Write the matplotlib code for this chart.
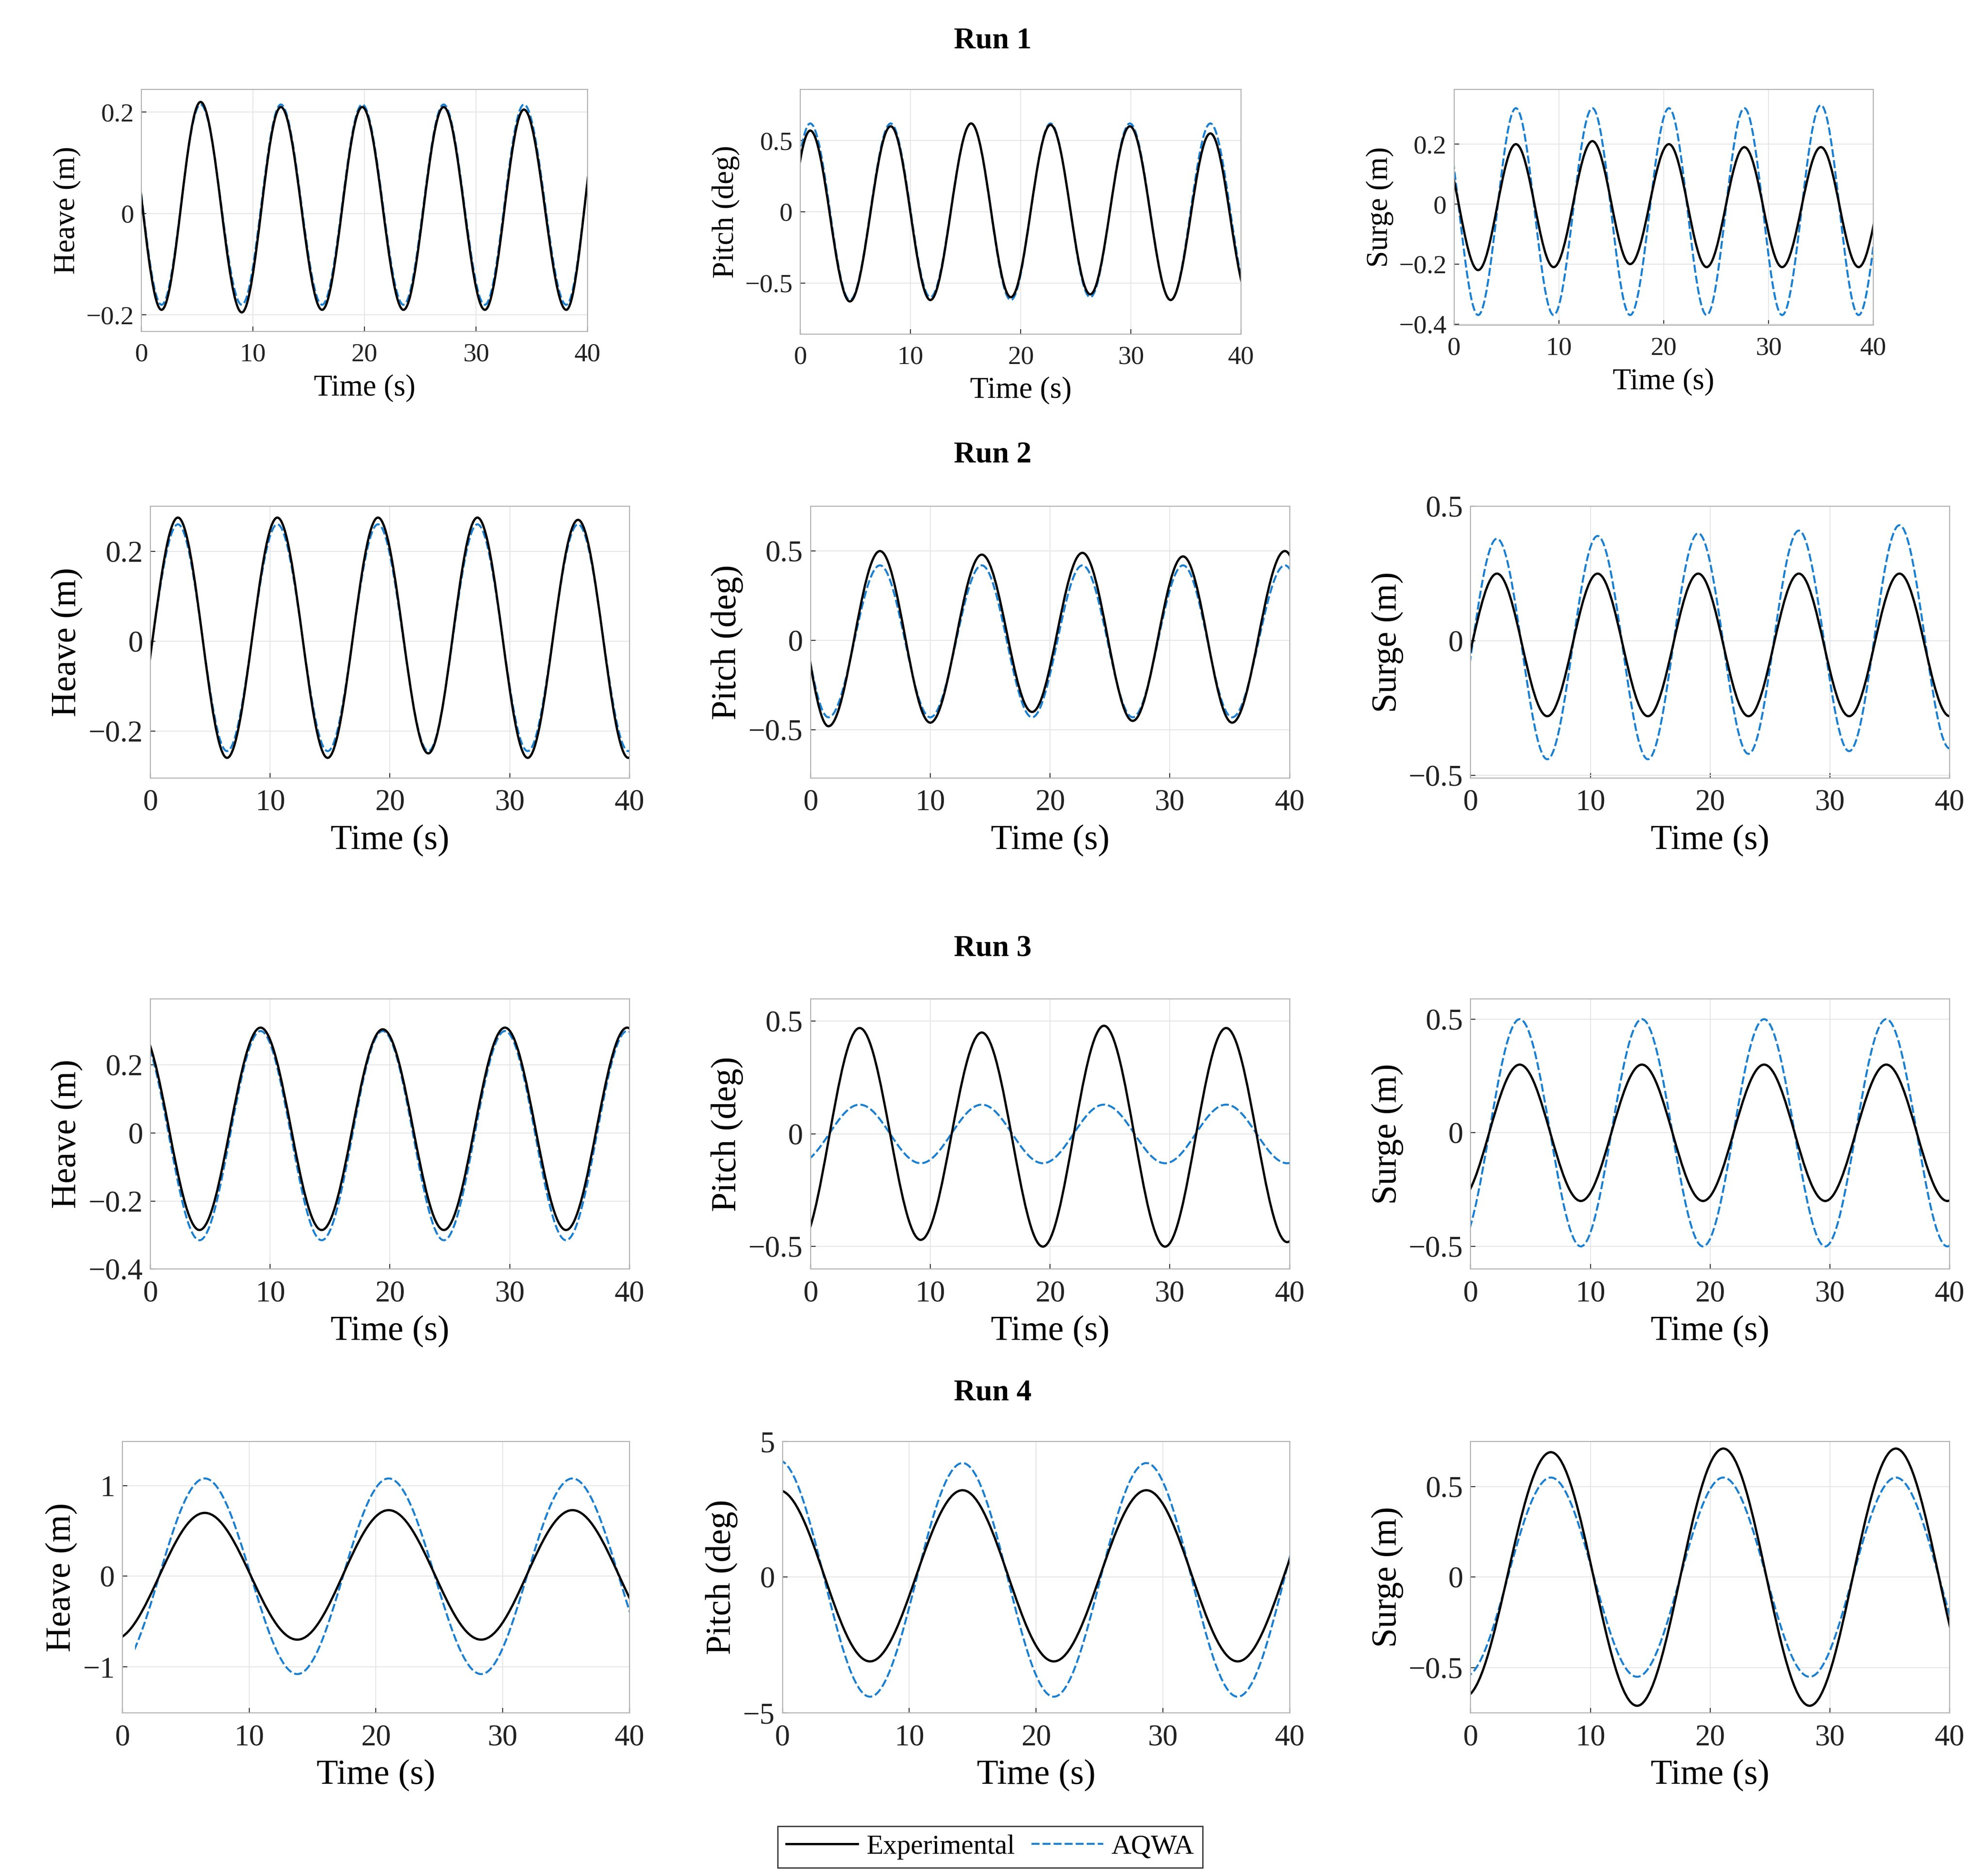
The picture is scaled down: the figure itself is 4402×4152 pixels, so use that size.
import matplotlib
matplotlib.use("Agg")
import matplotlib.pyplot as plt
from matplotlib.path import Path
from matplotlib.patches import PathPatch, Rectangle
from matplotlib.lines import Line2D

plt.rcParams['font.family'] = ['Liberation Serif', 'DejaVu Serif']

# Extrema (time, value); curves pass through these points
r1_heave_t = [-1.8, 1.8, 5.3, 9.0, 12.5, 16.2, 19.8, 23.5, 27.1, 30.8, 34.3, 38.1, 41.4]
r1_heave_exp = [0.25, -0.19, 0.22, -0.195, 0.21, -0.19, 0.21, -0.19, 0.21, -0.19, 0.205, -0.19, 0.22]
r1_heave_aqwa = [0.25, -0.18, 0.215, -0.18, 0.215, -0.18, 0.215, -0.18, 0.215, -0.18, 0.215, -0.18, 0.215]
r1_pitch_t = [-2.4, 0.9, 4.5, 8.2, 11.8, 15.5, 19.1, 22.7, 26.3, 29.9, 33.6, 37.2, 40.8]
r1_pitch_exp = [-0.6, 0.57, -0.63, 0.6, -0.62, 0.62, -0.6, 0.61, -0.58, 0.6, -0.62, 0.55, -0.62]
r1_pitch_aqwa = [-0.6, 0.62, -0.62, 0.62, -0.6, 0.62, -0.62, 0.62, -0.6, 0.62, -0.62, 0.62, -0.6]
r1_surge_t = [-1.3, 2.3, 5.9, 9.5, 13.2, 16.8, 20.5, 24.1, 27.7, 31.3, 35.0, 38.6, 42.2]
r1_surge_exp = [0.2, -0.22, 0.2, -0.21, 0.21, -0.2, 0.2, -0.21, 0.19, -0.21, 0.19, -0.21, 0.2]
r1_surge_aqwa = [0.32, -0.37, 0.32, -0.37, 0.32, -0.37, 0.32, -0.37, 0.32, -0.37, 0.33, -0.37, 0.32]

r2_heave_t = [-1.9, 2.3, 6.4, 10.6, 14.8, 19.0, 23.2, 27.3, 31.5, 35.7, 39.9, 44.0]
r2_heave_exp = [-0.26, 0.275, -0.26, 0.275, -0.26, 0.275, -0.25, 0.275, -0.26, 0.27, -0.26, 0.27]
r2_heave_aqwa = [-0.245, 0.26, -0.245, 0.26, -0.245, 0.26, -0.245, 0.26, -0.245, 0.26, -0.245, 0.26]
r2_pitch_t = [-2.2, 1.5, 5.8, 10.0, 14.3, 18.5, 22.7, 26.9, 31.1, 35.2, 39.6, 43.8]
r2_pitch_exp = [0.5, -0.48, 0.5, -0.46, 0.48, -0.4, 0.49, -0.45, 0.47, -0.46, 0.5, -0.46]
r2_pitch_aqwa = [0.42, -0.43, 0.42, -0.43, 0.42, -0.43, 0.42, -0.43, 0.42, -0.43, 0.42, -0.43]
r2_surge_t = [-2.0, 2.2, 6.4, 10.6, 14.8, 19.0, 23.2, 27.4, 31.6, 35.8, 40.0]
r2_surge_exp = [-0.28, 0.25, -0.28, 0.25, -0.28, 0.25, -0.28, 0.25, -0.28, 0.25, -0.28]
r2_surge_aqwa = [-0.44, 0.38, -0.44, 0.39, -0.44, 0.4, -0.42, 0.41, -0.41, 0.43, -0.4]

r3_t = [-1.0, 4.1, 9.2, 14.3, 19.4, 24.5, 29.6, 34.7, 39.8, 44.9]
r3_heave_exp = [0.31, -0.285, 0.31, -0.285, 0.305, -0.285, 0.31, -0.285, 0.31, -0.285]
r3_heave_aqwa = [0.3, -0.315, 0.3, -0.315, 0.3, -0.315, 0.3, -0.315, 0.3, -0.315]
r3_pitch_exp = [-0.5, 0.47, -0.47, 0.45, -0.5, 0.48, -0.5, 0.47, -0.48, 0.47]
r3_pitch_aqwa = [-0.13, 0.13, -0.13, 0.13, -0.13, 0.13, -0.13, 0.13, -0.13, 0.13]
r3_surge_exp = [-0.3, 0.3, -0.3, 0.3, -0.3, 0.3, -0.3, 0.3, -0.3, 0.3]
r3_surge_aqwa = [-0.5, 0.5, -0.5, 0.5, -0.5, 0.5, -0.5, 0.5, -0.5, 0.5]

r4_heave_t = [-0.7, 6.5, 13.8, 21.0, 28.3, 35.5, 42.8]
r4_heave_exp = [-0.7, 0.7, -0.7, 0.73, -0.7, 0.73, -0.7]
r4_heave_aqwa = [-1.08, 1.08, -1.08, 1.08, -1.08, 1.08, -1.08]
r4_pitch_t = [-0.3, 6.9, 14.2, 21.4, 28.7, 35.9, 43.2]
r4_pitch_exp = [3.2, -3.1, 3.2, -3.1, 3.2, -3.1, 3.2]
r4_pitch_aqwa = [4.3, -4.4, 4.2, -4.4, 4.2, -4.4, 4.2]
r4_surge_t = [-0.5, 6.7, 13.9, 21.1, 28.3, 35.5, 42.7]
r4_surge_exp = [-0.66, 0.69, -0.71, 0.71, -0.71, 0.71, -0.71]
r4_surge_aqwa = [-0.55, 0.55, -0.55, 0.55, -0.55, 0.55, -0.55]

ylabels = ['Heave (m)', 'Pitch (deg)', 'Surge (m)']
run_titles = ['Run 1', 'Run 2', 'Run 3', 'Run 4']

panels = [
    [(r1_heave_t, r1_heave_exp, r1_heave_aqwa, 0), (r1_pitch_t, r1_pitch_exp, r1_pitch_aqwa, 0), (r1_surge_t, r1_surge_exp, r1_surge_aqwa, 0)],
    [(r2_heave_t, r2_heave_exp, r2_heave_aqwa, 0), (r2_pitch_t, r2_pitch_exp, r2_pitch_aqwa, 0), (r2_surge_t, r2_surge_exp, r2_surge_aqwa, 0)],
    [(r3_t, r3_heave_exp, r3_heave_aqwa, 0), (r3_t, r3_pitch_exp, r3_pitch_aqwa, 0), (r3_t, r3_surge_exp, r3_surge_aqwa, 0)],
    [(r4_heave_t, r4_heave_exp, r4_heave_aqwa, 1.0), (r4_pitch_t, r4_pitch_exp, r4_pitch_aqwa, 0), (r4_surge_t, r4_surge_exp, r4_surge_aqwa, 0)],
]
ylims = [
    [(-0.233, 0.245), (-0.86, 0.86), (-0.404, 0.383)],
    [(-0.305, 0.30), (-0.77, 0.75), (-0.51, 0.50)],
    [(-0.396, 0.395), (-0.6, 0.6), (-0.6, 0.59)],
    [(-1.51, 1.49), (-5.0, 4.9), (-0.75, 0.75)],
]
yticks = [
    [[-0.2, 0, 0.2], [-0.5, 0, 0.5], [-0.4, -0.2, 0, 0.2]],
    [[-0.2, 0, 0.2], [-0.5, 0, 0.5], [-0.5, 0, 0.5]],
    [[-0.4, -0.2, 0, 0.2], [-0.5, 0, 0.5], [-0.5, 0, 0.5]],
    [[-1, 0, 1], [-5, 0, 5], [-0.5, 0, 0.5]],
]

W, H = 1560.0, 1470.0
boxes = [
    [(111, 461, 70, 260), (628, 974, 70, 262), (1141, 1470, 70, 255)],
    [(118, 494, 397, 610), (636, 1012, 397, 610), (1154, 1530, 397, 610)],
    [(118, 494, 783, 995), (636, 1012, 783, 995), (1154, 1530, 783, 995)],
    [(96, 494, 1130, 1343), (614, 1012, 1130, 1343), (1154, 1530, 1130, 1343)],
]
title_y = [32, 357, 744, 1092]

BLUE = '#1a7fd0'

def curve(ax, t, y, color, ls, start, lw):
    verts = [(t[0], y[0])]
    codes = [Path.MOVETO]
    k = 0.36
    for i in range(len(t) - 1):
        h = t[i + 1] - t[i]
        verts += [(t[i] + k * h, y[i]), (t[i + 1] - k * h, y[i + 1]), (t[i + 1], y[i + 1])]
        codes += [Path.CURVE4] * 3
    p = PathPatch(Path(verts, codes), facecolor='none', edgecolor=color, lw=lw, linestyle=ls)
    ax.add_patch(p)
    clip = Rectangle((max(start, 0), -100), 40 - max(start, 0), 200, transform=ax.transData)
    p.set_clip_path(clip)

fig = plt.figure(figsize=(22.01, 20.76), dpi=200)
for r in range(4):
    small = (r == 0)
    tfs = 21 if small else 24
    lfs = 24 if small else 28
    for c in range(3):
        x0, x1, yt, yb = boxes[r][c]
        ax = fig.add_axes([x0 / W, 1 - yb / H, (x1 - x0) / W, (yb - yt) / H])
        t, e, a, st = panels[r][c]
        curve(ax, t, a, BLUE, (0, (4, 1.5)), st, 1.6)
        curve(ax, t, e, 'black', '-', 0, 1.8)
        ax.set_xlim(0, 40)
        ax.set_ylim(*ylims[r][c])
        ax.set_xticks([0, 10, 20, 30, 40])
        ax.set_yticks(yticks[r][c])
        ax.set_yticklabels([('\u2212' + f'{abs(v):g}') if v < 0 else f'{v:g}' for v in yticks[r][c]])
        ax.grid(True, color='#e6e6e6', lw=0.8)
        ax.set_axisbelow(True)
        for s in ax.spines.values():
            s.set_color('#b0b0b0')
            s.set_linewidth(0.8)
        ax.tick_params(direction='in', length=4, labelsize=tfs, colors='#333333', labelcolor='#222222')
        ax.tick_params(axis='x', pad=9)
        ax.tick_params(axis='y', pad=6)
        ax.set_xlabel('Time (s)', fontsize=lfs, labelpad=6)
        ax.set_ylabel(ylabels[c], fontsize=lfs, labelpad=4)
    fig.text(779 / W, 1 - title_y[r] / H, run_titles[r], ha='center', va='center', fontsize=24, fontweight='bold')

handles = [Line2D([], [], color='black', lw=1.8), Line2D([], [], color=BLUE, lw=1.6, linestyle=(0, (4, 1.5)))]
fig.legend(handles, ['Experimental', 'AQWA'], loc='center', bbox_to_anchor=(777 / W, 1 - 1448 / H), ncol=2,
           fontsize=22, frameon=True, fancybox=False, edgecolor='black', handlelength=2.6,
           columnspacing=0.6, handletextpad=0.3, borderpad=0.3)
fig.savefig('out.png', dpi=200)
